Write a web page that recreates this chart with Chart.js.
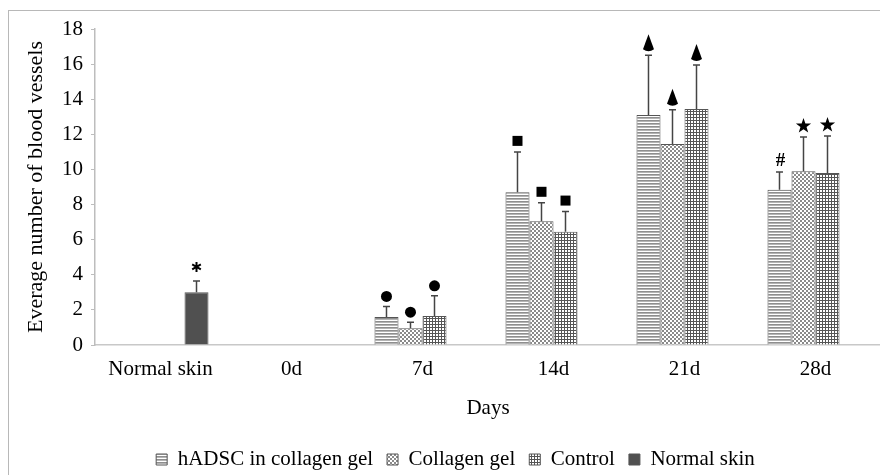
<!DOCTYPE html>
<html>
<head>
<meta charset="utf-8">
<script src="https://cdn.jsdelivr.net/npm/chart.js@4.4.0/dist/chart.umd.min.js"></script>
<style>
  html, body { margin: 0; padding: 0; background: #fff; width: 880px; height: 475px; overflow: hidden; }
  #frame { position: absolute; left: 8px; top: 10px; width: 900px; height: 500px; border: 1px solid #b8b8b8; }
  #wrap { position: absolute; left: 0; top: 0; width: 884px; height: 480px; }
</style>
</head>
<body>
<div id="frame"></div>
<div id="wrap"><canvas id="chart"></canvas></div>
<script>
const categories = ["Normal skin", "0d", "7d", "14d", "21d", "28d"];
const seriesNames = ["hADSC in collagen gel", "Collagen gel", "Control", "Normal skin"];

// means
const hadsc = [null, null, 1.6, 8.7, 13.1, 8.85];
const collagen = [null, null, 0.95, 7.05, 11.45, 9.9];
const control = [null, null, 1.65, 6.45, 13.45, 9.8];
const normal = [3.0, null, null, null, null, null];

// upper error (SD)
const hadscErr = [null, null, 0.6, 2.3, 3.4, 1.0];
const collagenErr = [null, null, 0.35, 1.05, 1.95, 1.95];
const controlErr = [null, null, 1.15, 1.15, 2.5, 2.1];
const normalErr = [0.65, null, null, null, null, null];

// significance marks
const hadscMarks = [null, null, "circle", "square", "cone", "hash"];
const collagenMarks = [null, null, "circle", "square", "cone", "star"];
const controlMarks = [null, null, "circle", "square", "cone", "star"];
const normalMarks = ["asterisk", null, null, null, null, null];

const FONT = "'Liberation Serif', 'Times New Roman', serif";

function makePattern(w, h, draw) {
  const c = document.createElement("canvas");
  c.width = w; c.height = h;
  const g = c.getContext("2d");
  g.fillStyle = "#fff";
  g.fillRect(0, 0, w, h);
  draw(g);
  return g.createPattern(c, "repeat");
}

const stripes = makePattern(4, 3, g => {
  g.fillStyle = "#8e8e8e"; g.fillRect(0, 0, 4, 1);
  g.fillStyle = "#b4b4b4"; g.fillRect(0, 1, 4, 1);
});
const checker = makePattern(4, 4, g => {
  g.fillStyle = "#8a8a8a";
  g.fillRect(0, 0, 2, 2); g.fillRect(2, 2, 2, 2);
});
const grid = makePattern(3, 3, g => {
  g.fillStyle = "#555";
  g.fillRect(0, 0, 3, 1); g.fillRect(0, 0, 1, 3);
});

const errs = [hadscErr, collagenErr, controlErr, normalErr];
const marks = [hadscMarks, collagenMarks, controlMarks, normalMarks];

function drawMark(ctx, kind, x, top) {
  ctx.save();
  ctx.fillStyle = "#000";
  ctx.strokeStyle = "#000";
  if (kind === "circle") {
    ctx.beginPath(); ctx.arc(x, top - 10, 5.5, 0, Math.PI * 2); ctx.fill();
  } else if (kind === "square") {
    ctx.fillRect(x - 5, top - 16, 10, 10);
  } else if (kind === "cone") {
    const tip = top - 21, base = top - 4;
    ctx.beginPath();
    ctx.moveTo(x, tip);
    ctx.lineTo(x + 5.5, base - 2);
    ctx.quadraticCurveTo(x, base + 2, x - 5.5, base - 2);
    ctx.closePath(); ctx.fill();
  } else if (kind === "star") {
    const cy = top - 11;
    ctx.beginPath();
    for (let k = 0; k < 10; k++) {
      const r = k % 2 ? 3.2 : 8;
      const a = -Math.PI / 2 + k * Math.PI / 5;
      ctx.lineTo(x + r * Math.cos(a), cy + r * Math.sin(a));
    }
    ctx.closePath(); ctx.fill();
  } else if (kind === "hash") {
    ctx.font = "bold 19px " + FONT;
    ctx.textAlign = "center"; ctx.textBaseline = "middle";
    ctx.fillText("#", x + 1, top - 11);
  } else if (kind === "asterisk") {
    const cy = top - 14;
    ctx.lineWidth = 2;
    ctx.beginPath();
    for (let k = 0; k < 3; k++) {
      const a = Math.PI / 2 + k * Math.PI / 3;
      ctx.moveTo(x - 5 * Math.cos(a), cy - 5 * Math.sin(a));
      ctx.lineTo(x + 5 * Math.cos(a), cy + 5 * Math.sin(a));
    }
    ctx.stroke();
  }
  ctx.restore();
}

const errorBars = {
  id: "errorBars",
  afterLayout(chart) {
    // legend in the source sits a little right of centre
    chart.legend.left += 30;
  },
  afterDatasetsDraw(chart) {
    const ctx = chart.ctx;
    const y = chart.scales.y;
    chart.data.datasets.forEach((ds, i) => {
      chart.getDatasetMeta(i).data.forEach((bar, j) => {
        const v = ds.data[j];
        if (v == null) return;
        const top = y.getPixelForValue(v + errs[i][j]);
        ctx.save();
        ctx.strokeStyle = "#444";
        ctx.lineWidth = 1.5;
        ctx.beginPath();
        ctx.moveTo(bar.x, bar.y);
        ctx.lineTo(bar.x, top);
        ctx.moveTo(bar.x - 3.5, top);
        ctx.lineTo(bar.x + 3.5, top);
        ctx.stroke();
        ctx.restore();
        if (marks[i][j]) drawMark(ctx, marks[i][j], bar.x, top);
      });
    });
  }
};

new Chart(document.getElementById("chart"), {
  type: "bar",
  data: {
    labels: categories,
    datasets: [
      { label: seriesNames[0], data: hadsc, backgroundColor: stripes },
      { label: seriesNames[1], data: collagen, backgroundColor: checker },
      { label: seriesNames[2], data: control, backgroundColor: grid },
      { label: seriesNames[3], data: normal, backgroundColor: "#505050" },
    ].map(d => ({ ...d, borderColor: "#555", borderWidth: 1, categoryPercentage: 0.733, barPercentage: 1 })),
  },
  options: {
    responsive: true,
    maintainAspectRatio: false,
    animation: false,
    layout: { padding: { top: 29, right: 3, bottom: 0, left: 0 } },
    scales: {
      x: {
        grid: { display: false, drawTicks: false },
        border: { color: "#c8c8c8", width: 1.5 },
        ticks: { color: "#000", font: { family: FONT, size: 21 }, padding: 12 },
        title: { display: true, text: "Days", color: "#000", font: { family: FONT, size: 21 }, padding: { top: 0, bottom: 14 } },
        afterFit: s => { s.height = 90; },
      },
      y: {
        min: 0,
        max: 18,
        ticks: { stepSize: 2, color: "#000", font: { family: FONT, size: 21 }, padding: 8 },
        grid: { drawOnChartArea: false, tickLength: 4, color: "#bdbdbd" },
        border: { color: "#bdbdbd", width: 1.5 },
        title: { display: true, text: "Everage number of blood vessels", color: "#000", font: { family: FONT, size: 22 }, padding: { top: 23, bottom: 0 } },
        afterFit: s => { s.width = 95; },
      },
    },
    plugins: {
      legend: {
        position: "bottom",
        labels: { color: "#000", font: { family: FONT, size: 21 }, boxWidth: 11, boxHeight: 11, padding: 14 },
      },
      tooltip: { enabled: false },
    },
  },
  plugins: [errorBars],
});
</script>
</body>
</html>
